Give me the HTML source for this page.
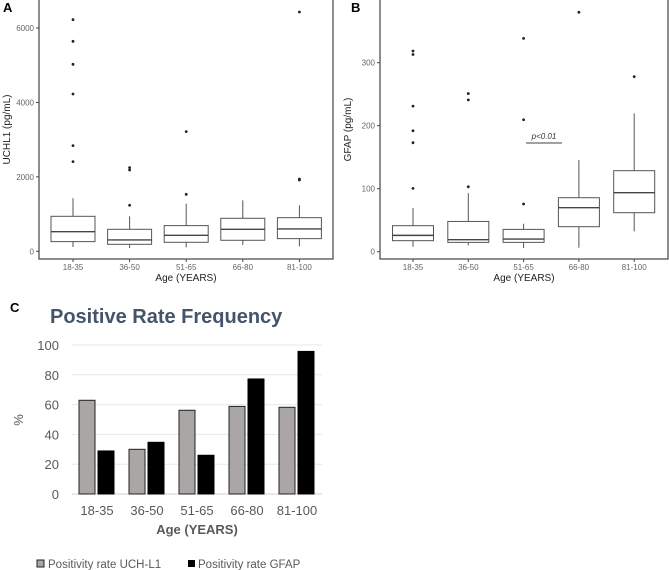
<!DOCTYPE html>
<html><head><meta charset="utf-8"><style>
html,body{margin:0;padding:0;background:#fff;}
svg{display:block;font-family:"Liberation Sans",Arial,sans-serif;}
</style></head><body>
<svg id="fig" width="669" height="570" viewBox="0 0 669 570">
<text x="3" y="12" font-size="13" font-weight="bold">A</text>
<text x="351" y="12" font-size="13" font-weight="bold">B</text>
<text x="10" y="312" font-size="13" font-weight="bold">C</text>
<g id="pa"></g>
<g id="pb"></g>
<g id="pc"></g>
</svg>
<script>
const cats=["18-35","36-50","51-65","66-80","81-100"];
// box stats: [low whisker, Q1, median, Q3, high whisker]
const uchlStats=[[116,260,528,940,1424],[90,188,304,591,940],[107,242,430,690,1280],[170,296,591,887,1370],[134,340,600,904,1236]];
const uchlOut=[[6224,5642,5024,4227,2839,2409],[2248,2185,1236],[3215,1531],[],[6430,1943,1916]];
const uchlTicks=[0,2000,4000,6000];
const gfapStats=[[7.9,17.5,25.9,41.3,69.3],[10,14.8,19,48,93],[5.8,14.8,20.1,35.4,44.4],[6.3,39.7,69.8,85.7,145.5],[32.3,61.9,93.6,128.6,219.5]];
const gfapOut=[[318.5,313,231,192,173,100.5],[251,241,103],[338.6,209.5,75.7],[380],[277.8]];
const gfapTicks=[0,100,200,300];
const rateUchl=[62.9,30,56.2,58.8,58.2];
const rateGfap=[28.9,34.7,26,77.2,95.7];
const rateTicks=[0,20,40,60,80,100];

const NS="http://www.w3.org/2000/svg";
function mk(p,t,a){const e=document.createElementNS(NS,t);for(const k in a)e.setAttribute(k,a[k]);p.appendChild(e);return e;}

function boxplot(g,o){
  const y=v=>o.y0-(v-o.vmin)*(o.y0-o.y1)/(o.v1-o.vmin);
  const x=i=>o.xc0+i*o.dx;
  const fr=mk(g,'rect',{x:o.L,y:-2,width:o.R-o.L,height:o.B+2,fill:'none',stroke:'#444','stroke-width':1.2});
  
  
  o.ticks.forEach(t=>{
    const tl=mk(g,'line',{x1:o.L-3,x2:o.L,y1:y(t),y2:y(t),stroke:'#444'});
    
    
    const tx=mk(g,'text',{x:o.L-5,y:y(t)+3,'font-size':8,fill:'#666','text-anchor':'end'});tx.textContent=t;
    
    
  });
  cats.forEach((c,i)=>{
    const s=o.stats[i],cx=x(i),w=o.bw;
    const bg=mk(g,'g',{});
    
    
    const st={stroke:'#555','stroke-width':1,fill:'none'};
    mk(bg,'line',Object.assign({x1:cx,x2:cx,y1:y(s[3]),y2:y(s[4])},st));
    mk(bg,'line',Object.assign({x1:cx,x2:cx,y1:y(s[0]),y2:y(s[1])},st));
    mk(bg,'rect',Object.assign({x:cx-w/2,y:y(s[3]),width:w,height:y(s[1])-y(s[3])},st));
    mk(bg,'line',{x1:cx-w/2,x2:cx+w/2,y1:y(s[2]),y2:y(s[2]),stroke:'#444','stroke-width':1.4});
    o.out[i].forEach(v=>{const d=mk(bg,'circle',{cx:cx,cy:y(v),r:1.4,fill:'#222'});
      
      });
    mk(g,'line',{x1:cx,x2:cx,y1:o.B,y2:o.B+3,stroke:'#444'});
    const t=mk(g,'text',{x:cx,y:o.B+11,'font-size':8,fill:'#666','text-anchor':'middle'});t.textContent=c;
    
    
  });
  const xt=mk(g,'text',{x:(o.L+o.R)/2,y:o.B+22,'font-size':10,fill:'#222','text-anchor':'middle'});xt.textContent='Age (YEARS)';
  
  
  const yt=mk(g,'text',{x:0,y:0,'font-size':10,fill:'#222','text-anchor':'middle',transform:`translate(${o.L-29},${(o.B)/2}) rotate(-90)`});yt.textContent=o.ylab;
  
  
  return {x,y};
}
boxplot(document.getElementById('pa'),{L:39,R:333,B:259,y0:251.3,y1:28,vmin:0,v1:6000,xc0:73,dx:56.6,bw:44,stats:uchlStats,out:uchlOut,ticks:uchlTicks,ylab:'UCHL1 (pg/mL)'});
const pb=document.getElementById('pb');
boxplot(pb,{L:380,R:668,B:259,y0:251.7,y1:62.7,vmin:0,v1:300,xc0:413,dx:55.3,bw:41,stats:gfapStats,out:gfapOut,ticks:gfapTicks,ylab:'GFAP (pg/mL)'});
const pl=mk(pb,'line',{x1:526,x2:562,y1:143,y2:143,stroke:'#444','stroke-width':1});


const pt=mk(pb,'text',{x:544,y:139,'font-size':8,'font-style':'italic',fill:'#333','text-anchor':'middle'});pt.textContent='p<0.01';



// Panel C
const pc=document.getElementById('pc');
const cy=v=>494-v*(494-345)/100, cx=i=>97+i*50;
const ttl=mk(pc,'text',{x:50,y:323,'font-size':20,'font-weight':'bold',fill:'#44546a'});ttl.textContent='Positive Rate Frequency';


rateTicks.forEach(t=>{
  const l=mk(pc,'line',{x1:72,x2:322,y1:cy(t),y2:cy(t),stroke:t===0?'#d0d0d0':'#e8e8e8','stroke-width':1});
  
  
  const tx=mk(pc,'text',{x:59,y:cy(t)+5,'font-size':13,fill:'#595959','text-anchor':'end'});tx.textContent=t;
  
  
});
cats.forEach((c,i)=>{
  const b1=mk(pc,'rect',{x:cx(i)-18,y:cy(rateUchl[i]),width:16,height:cy(0)-cy(rateUchl[i]),fill:'#aaa6a6',stroke:'#222','stroke-width':1});
  
  
  const b2=mk(pc,'rect',{x:cx(i)+1,y:cy(rateGfap[i]),width:16,height:cy(0)-cy(rateGfap[i]),fill:'#000',stroke:'#000','stroke-width':1});
  
  
  const t=mk(pc,'text',{x:cx(i),y:515,'font-size':13,fill:'#595959','text-anchor':'middle'});t.textContent=c;
  
  
});
const ax=mk(pc,'text',{x:197,y:534,'font-size':13,'font-weight':'bold',fill:'#595959','text-anchor':'middle'});ax.textContent='Age (YEARS)';


const pct=mk(pc,'text',{x:0,y:0,'font-size':13,fill:'#595959','text-anchor':'middle',transform:'translate(23,420) rotate(-90)'});pct.textContent='%';


const l1=mk(pc,'rect',{x:37,y:560,width:7,height:7,fill:'#aaa6a6',stroke:'#222'});


const lt1=mk(pc,'text',{x:48,y:568,'font-size':11.5,fill:'#595959'});lt1.textContent='Positivity rate UCH-L1';


const l2=mk(pc,'rect',{x:188,y:560,width:7,height:7,fill:'#000'});


const lt2=mk(pc,'text',{x:198,y:568,'font-size':11.5,fill:'#595959'});lt2.textContent='Positivity rate GFAP';


</script>
</body></html>
